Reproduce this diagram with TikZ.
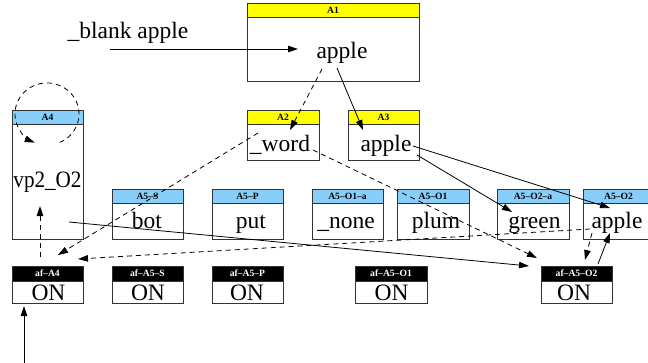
\documentclass[tikz,border=0pt]{standalone}
\usepackage{fontspec}
\setmainfont{Liberation Serif}
\usetikzlibrary{arrows.meta}
\definecolor{hyellow}{RGB}{255,255,0}
\definecolor{hblue}{RGB}{135,206,250}
\tikzset{
  bodybox/.style={draw=black!80, line width=0.9pt, inner sep=0pt, outer sep=0pt, fill=white},
  headbox/.style={draw=black!80, line width=0.9pt, inner sep=0pt, outer sep=0pt, font=\bfseries\fontsize{9.6}{10}\selectfont},
  txt/.style={inner sep=0pt, font=\fontsize{23.5}{24}\selectfont, anchor=base},
  conn/.style={line width=0.8pt, -{Triangle[length=10pt,width=6.5pt]}},
  dconn/.style={conn, dash pattern=on 5pt off 4pt},
}
\newcommand\recbox[9]{%
  \node[bodybox, minimum width={#4-#2}, minimum height={#5-#3}] (#1) at ({(#2+#4)/2},{-(#3+#5)/2}) {};
  \node[headbox, fill=#7, text=#8, minimum width={#4-#2}, minimum height={#6-#3}] (#1h) at ({(#2+#4)/2},{-(#3+#6)/2}) {#9};
}
\begin{document}
\begin{tikzpicture}[x=1pt,y=1pt]
\useasboundingbox (0,0) rectangle (648,-362);
% boxes
\recbox{A1}{247}{3}{419}{81}{17}{hyellow}{black}{A1}
\recbox{A2}{247}{110}{319}{160}{124}{hyellow}{black}{A2}
\recbox{A3}{348}{110}{419}{160}{124}{hyellow}{black}{A3}
\recbox{A4}{12}{110}{83}{239}{124}{hblue}{black}{A4}
\recbox{A5S}{112}{189}{183}{239}{203}{hblue}{black}{A5--S}
\recbox{A5P}{212}{189}{283}{239}{203}{hblue}{black}{A5--P}
\recbox{A5O1a}{312}{189}{383}{239}{203}{hblue}{black}{A5--O1--a}
\recbox{A5O1}{397}{189}{469}{239}{203}{hblue}{black}{A5--O1}
\recbox{A5O2a}{497}{189}{569}{239}{203}{hblue}{black}{A5--O2--a}
\recbox{A5O2}{583}{189}{654}{239}{203}{hblue}{black}{A5--O2}
\recbox{afA4}{12}{266}{83}{303}{281}{black}{white}{af--A4}
\recbox{afA5S}{112}{266}{183}{303}{281}{black}{white}{af--A5--S}
\recbox{afA5P}{212}{266}{283}{303}{281}{black}{white}{af--A5--P}
\recbox{afA5O1}{355}{266}{427}{303}{281}{black}{white}{af--A5--O1}
\recbox{afA5O2}{541}{266}{612}{303}{281}{black}{white}{af--A5--O2}
% texts
\node[txt] (blank) at (128,-38) {\_blank apple};
\node[txt] (t1) at (342,-58) {apple};
\node[txt] (t2) at (280,-151) {\_word};
\node[txt] (t3) at (386,-151) {apple};
\node[txt] (t4) at (47.5,-187) {\scalebox{0.9}[1]{vp2\_O2}};
\node[txt] (t5s) at (147,-228) {bot};
\node[txt] (t5p) at (251,-228) {put};
\node[txt] (t5o1a) at (346,-228) {\_none};
\node[txt] (t5o1) at (436,-228) {plum};
\node[txt] (t5o2a) at (534.5,-228) {green};
\node[txt] (t5o2) at (617,-228) {apple};
\node[txt] (on1) at (48.5,-300) {ON};
\node[txt] (on2) at (148,-300) {ON};
\node[txt] (on3) at (247,-300) {ON};
\node[txt] (on4) at (391.5,-300) {ON};
\node[txt] (on5) at (574,-300) {ON};
% connector end points
\coordinate (bs) at (110,-49);
\coordinate (t1in) at (298,-49);
\coordinate (t1a) at (322,-69);
\coordinate (t1b) at (337,-68);
\coordinate (t2in) at (290,-130);
\coordinate (t3in) at (363,-130);
\coordinate (t2a) at (258,-133);
\coordinate (t2b) at (313,-150);
\coordinate (t3a) at (417,-155);
\coordinate (t3b) at (413,-146);
\coordinate (greenin) at (512,-212);
\coordinate (o2in) at (610,-208);
\coordinate (t4out) at (69,-222);
\coordinate (t4in) at (40,-206);
\coordinate (af4out) at (40,-257);
\coordinate (af4in1) at (58,-255);
\coordinate (af4in2) at (78,-259);
\coordinate (afo2in1) at (537,-258);
\coordinate (afo2in2) at (529,-266);
\coordinate (afo2in3) at (585,-260);
\coordinate (afo2out) at (598,-264);
\coordinate (o2a) at (590,-229);
\coordinate (o2b) at (592,-233);
\coordinate (o2in2) at (610,-233);
\coordinate (loopS) at (59.7,-142.4);
\coordinate (bot) at (24,-366);
\coordinate (af4in3) at (24,-306);
% connectors
\draw[conn] (bs) -- (t1in);
\draw[dconn] (t1a) -- (t2in);
\draw[conn] (t1b) -- (t3in);
\draw[dconn] (loopS) arc[start angle=-66.6, end angle=247.5, x radius=32, y radius=31];
\draw[dconn] (t2a) -- (af4in1);
\draw[dconn] (t2b) -- (afo2in1);
\draw[conn] (t3a) -- (greenin);
\draw[conn] (t3b) -- (o2in);
\draw[conn] (t4out) -- (afo2in2);
\draw[dconn] (af4out) -- (t4in);
\draw[dconn] (o2a) -- (af4in2);
\draw[dconn] (o2b) -- (afo2in3);
\draw[conn] (afo2out) -- (o2in2);
\draw[conn] (bot) -- (af4in3);
\end{tikzpicture}
\end{document}
